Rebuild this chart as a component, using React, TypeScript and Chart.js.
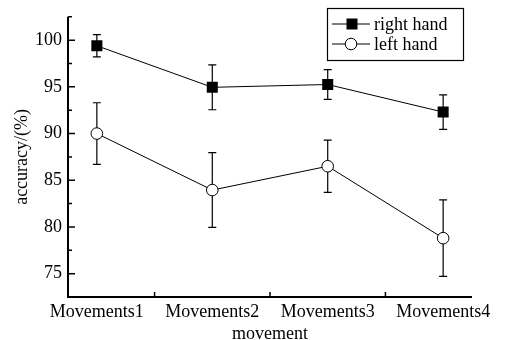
import React, { useEffect, useRef } from "react";
import { Chart, registerables } from "chart.js";

Chart.register(...registerables);

const categories = ["Movements1", "Movements2", "Movements3", "Movements4"];
const rightHand = [99.4, 94.95, 95.25, 92.3];
const rightHandErr = [1.2, 2.4, 1.6, 1.85];
const leftHand = [90.0, 83.95, 86.5, 78.8];
const leftHandErr = [3.3, 4.0, 2.8, 4.1];
const yMajorTicks = [75, 80, 85, 90, 95, 100];
const yMinorTicks = [77.5, 82.5, 87.5, 92.5, 97.5, 102.5];
const xBoundaryTicks = [1.5, 2.5, 3.5];
const seriesNames = ["right hand", "left hand"];

const FONT = "'Liberation Serif', 'Times New Roman', serif";
Chart.defaults.font.family = FONT;
Chart.defaults.color = "#000";

export default function App() {
  const ref = useRef<HTMLCanvasElement | null>(null);

  useEffect(() => {
    if (!ref.current) return;

    const custom = {
      id: "custom",
      beforeDatasetsDraw(chart: any) {
        const ctx = chart.ctx;
        const x = chart.scales.x;
        const y = chart.scales.y;
        const drawErr = (vals: number[], errs: number[]) => {
          vals.forEach((v, i) => {
            const px = x.getPixelForValue(i + 1);
            const top = y.getPixelForValue(v + errs[i]);
            const bot = y.getPixelForValue(v - errs[i]);
            ctx.save();
            ctx.strokeStyle = "#000";
            ctx.lineWidth = 1.2;
            ctx.beginPath();
            ctx.moveTo(px, top);
            ctx.lineTo(px, bot);
            ctx.moveTo(px - 4, top);
            ctx.lineTo(px + 4, top);
            ctx.moveTo(px - 4, bot);
            ctx.lineTo(px + 4, bot);
            ctx.stroke();
            ctx.restore();
          });
        };
        drawErr(rightHand, rightHandErr);
        drawErr(leftHand, leftHandErr);
      },
      afterDraw(chart: any) {
        const ctx = chart.ctx;
        const x = chart.scales.x;
        const y = chart.scales.y;
        const area = chart.chartArea;
        ctx.save();
        ctx.strokeStyle = "#000";
        ctx.lineWidth = 2;
        ctx.beginPath();
        ctx.moveTo(area.left, area.top);
        ctx.lineTo(area.left, area.bottom);
        ctx.lineTo(area.right, area.bottom);
        ctx.stroke();
        ctx.lineWidth = 1.5;
        ctx.beginPath();
        yMajorTicks.forEach((v) => {
          const py = y.getPixelForValue(v);
          ctx.moveTo(area.left, py);
          ctx.lineTo(area.left + 7, py);
        });
        yMinorTicks.forEach((v) => {
          const py = y.getPixelForValue(v);
          ctx.moveTo(area.left, py);
          ctx.lineTo(area.left + 4, py);
        });
        xBoundaryTicks.forEach((v) => {
          const px = x.getPixelForValue(v);
          ctx.moveTo(px, area.bottom);
          ctx.lineTo(px, area.bottom - 5);
        });
        ctx.stroke();

        // legend
        const bx = 327, by = 8, bw = 136, bh = 52;
        ctx.lineWidth = 1.2;
        ctx.strokeRect(bx + 0.5, by + 0.5, bw, bh);
        const rows = [by + 16, by + 36];
        rows.forEach((ry, i) => {
          ctx.lineWidth = 1;
          ctx.beginPath();
          ctx.moveTo(332, ry);
          ctx.lineTo(370, ry);
          ctx.stroke();
          if (i === 0) {
            ctx.fillStyle = "#000";
            ctx.fillRect(352 - 5.5, ry - 5.5, 11, 11);
          } else {
            ctx.beginPath();
            ctx.arc(351, ry, 5.8, 0, Math.PI * 2);
            ctx.fillStyle = "#fff";
            ctx.fill();
            ctx.stroke();
          }
          ctx.fillStyle = "#000";
          ctx.font = `18px ${FONT}`;
          ctx.textBaseline = "middle";
          ctx.textAlign = "left";
          ctx.fillText(seriesNames[i], 374, ry + 1);
        });
        ctx.restore();
      },
    };

    const chart = new Chart(ref.current, {
      type: "line",
      data: {
        datasets: [
          {
            label: seriesNames[0],
            data: rightHand.map((v, i) => ({ x: i + 1, y: v })),
            borderColor: "#000",
            borderWidth: 1,
            backgroundColor: "#000",
            pointStyle: "rect",
            pointRadius: 7.8,
            pointBackgroundColor: "#000",
            pointBorderColor: "#000",
            pointBorderWidth: 0,
          },
          {
            label: seriesNames[1],
            data: leftHand.map((v, i) => ({ x: i + 1, y: v })),
            borderColor: "#000",
            borderWidth: 1,
            backgroundColor: "#fff",
            pointStyle: "circle",
            pointRadius: 5.8,
            pointBackgroundColor: "#fff",
            pointBorderColor: "#000",
            pointBorderWidth: 1,
          },
        ],
      },
      options: {
        responsive: false,
        animation: false,
        layout: { padding: { top: 12, right: 35, left: 0, bottom: 0 } },
        plugins: { legend: { display: false }, tooltip: { enabled: false } },
        scales: {
          x: {
            type: "linear",
            min: 0.75,
            max: 4.25,
            afterBuildTicks: (scale: any) => {
              scale.ticks = categories.map((_, i) => ({ value: i + 1 }));
            },
            afterFit: (scale: any) => {
              scale.height = 43;
            },
            grid: { display: false, drawTicks: false },
            border: { display: false },
            ticks: {
              autoSkip: false,
              maxRotation: 0,
              padding: 4,
              color: "#000",
              font: { family: FONT, size: 18 },
              callback: (v: any) => categories[Math.round(Number(v)) - 1] ?? "",
            },
            title: {
              display: true,
              text: "movement",
              color: "#000",
              font: { family: FONT, size: 18 },
              padding: { top: 0, bottom: -5 },
            },
          },
          y: {
            min: 72.5,
            max: 102.5,
            afterBuildTicks: (scale: any) => {
              scale.ticks = yMajorTicks.map((v) => ({ value: v }));
            },
            afterFit: (scale: any) => {
              scale.width = 68;
            },
            grid: { display: false, drawTicks: false },
            border: { display: false },
            ticks: {
              padding: 6,
              color: "#000",
              font: { family: FONT, size: 18 },
            },
            title: {
              display: true,
              text: "accuracy/(%)",
              color: "#000",
              font: { family: FONT, size: 18 },
              padding: { top: 11, bottom: 0 },
            },
          },
        },
      },
      plugins: [custom],
    });
    return () => chart.destroy();
  }, []);

  return (
    <div style={{ position: "fixed", left: 0, top: 0, width: 507, height: 340, background: "#fff" }}>
      <canvas ref={ref} width={507} height={340} />
    </div>
  );
}
